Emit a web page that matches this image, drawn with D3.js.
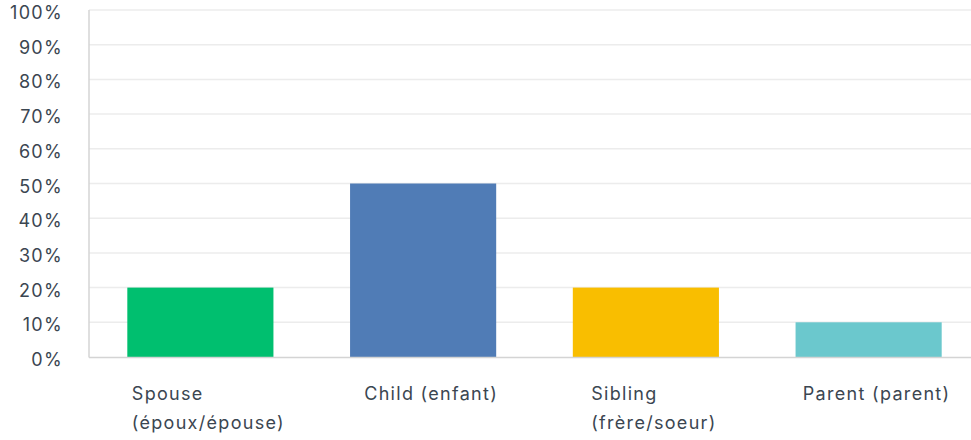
<!DOCTYPE html>
<html>
<head>
<meta charset="utf-8">
<script src="https://cdn.jsdelivr.net/npm/d3@7"></script>
<style>
  html, body { margin: 0; padding: 0; background: #fff; }
  svg text { font-family: "Inter", "Open Sans", sans-serif; fill: #3b4651; letter-spacing: 1.3px; }
</style>
</head>
<body>
<svg id="chart" width="971" height="440"></svg>
<script>
const categories = ["Spouse (époux/épouse)", "Child (enfant)", "Sibling (frère/soeur)", "Parent (parent)"];
const values = [0.20, 0.50, 0.20, 0.10];
const colors = ["#00bf6f", "#507cb6", "#f9be00", "#6bc8cd"];
const yTicks = [0, 0.1, 0.2, 0.3, 0.4, 0.5, 0.6, 0.7, 0.8, 0.9, 1.0];

(function () {
const svg = d3.select("#chart");
const mLeft = 89, mRight = 980, mTop = 10, mBottom = 357;
const fs = 18;

const x = d3.scaleBand().domain(categories).range([mLeft, mRight])
  .paddingInner(0.344).paddingOuter(0.172);
const y = d3.scaleLinear().domain([0, 1]).range([mBottom, mTop]);

svg.append("g").selectAll("line").data(yTicks.filter(d => d > 0)).join("line")
  .attr("x1", mLeft).attr("x2", 971)
  .attr("y1", d => y(d)).attr("y2", d => y(d))
  .attr("stroke", "#ececec").attr("stroke-width", 1.5);

svg.append("g").selectAll("text").data(yTicks).join("text")
  .attr("x", 63).attr("y", d => y(d) + 9)
  .attr("text-anchor", "end").attr("font-size", fs)
  .text(d => d3.format(".0%")(d));

svg.append("g").selectAll("rect").data(categories).join("rect")
  .attr("x", d => x(d)).attr("width", x.bandwidth())
  .attr("y", (d, i) => y(values[i])).attr("height", (d, i) => y(0) - y(values[i]))
  .attr("fill", (d, i) => colors[i]);

svg.append("line").attr("x1", mLeft).attr("x2", mLeft).attr("y1", mTop).attr("y2", mBottom + 0.5)
  .attr("stroke", "#d4d4d4").attr("stroke-width", 1.5);
svg.append("line").attr("x1", mLeft).attr("x2", 971).attr("y1", mBottom + 0.5).attr("y2", mBottom + 0.5)
  .attr("stroke", "#d4d4d4").attr("stroke-width", 1.5);

const maxW = 175;
const lab = svg.append("g").selectAll("g").data(categories).join("g");
lab.each(function(d) {
  const g = d3.select(this);
  const words = d.split(" ");
  const lines = [];
  let cur = [];
  const t = g.append("text").attr("font-size", fs);
  for (const w of words) {
    const test = cur.concat([w]).join(" ");
    t.text(test);
    if (t.node().getComputedTextLength() > maxW && cur.length) {
      lines.push(cur.join(" "));
      cur = [w];
    } else cur.push(w);
  }
  lines.push(cur.join(" "));
  t.remove();
  const texts = lines.map((l, i) => g.append("text").attr("font-size", fs)
    .attr("y", 400 + i * 29).text(l));
  const widths = texts.map(tt => tt.node().getComputedTextLength());
  const bw = d3.max(widths);
  const cx = x(d) + x.bandwidth() / 2 + 8;
  texts.forEach(tt => tt.attr("x", cx - bw / 2));
});
})();
</script>
</body>
</html>
